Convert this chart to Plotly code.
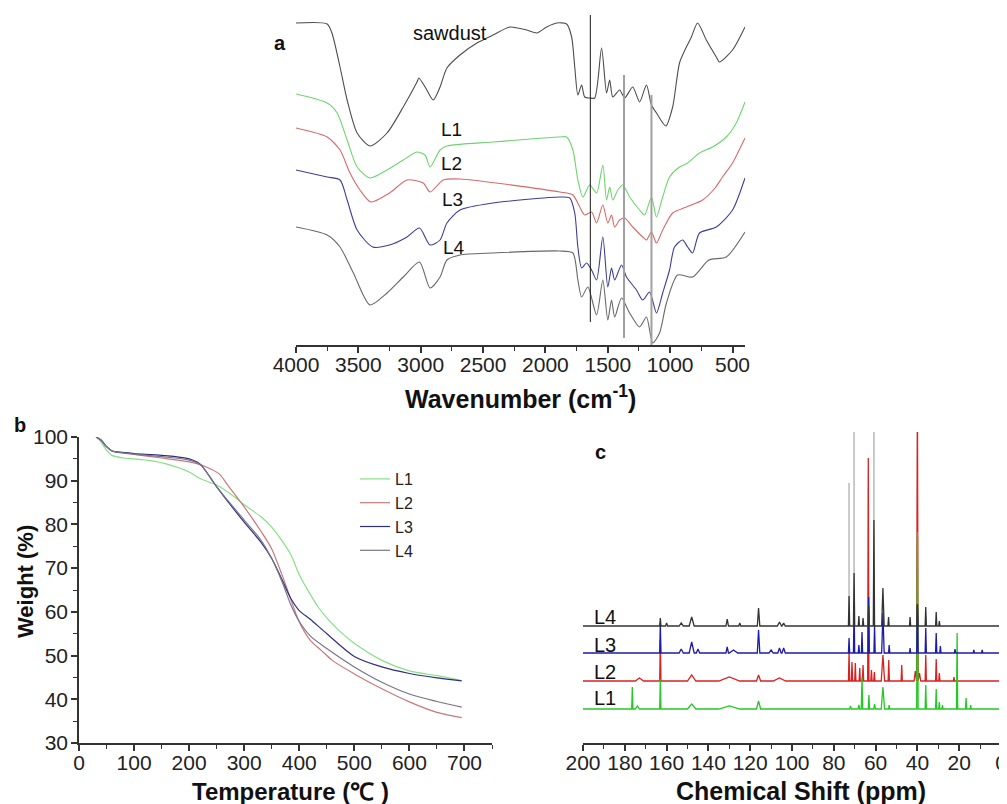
import plotly.graph_objects as go

# target picture size and the page's 8px body margin (figure is drawn inside it)
VW, VH, PAGE_MARGIN = 1007, 804, 8
W, H = VW - PAGE_MARGIN, VH - PAGE_MARGIN
FONT = "Liberation Sans, Arial, sans-serif"

# ---------------- (a) FTIR spectra: wavenumber (cm-1) vs transmittance (a.u., stacked) -------------
saw_wn = [4000, 3750, 3712, 3647, 3590, 3510, 3407, 3270, 3140, 3030, 3015, 2960, 2900, 2845, 2790, 2685,
          2550, 2420, 2285, 2150, 2070, 1990, 1910, 1830, 1790, 1765, 1740, 1710, 1685, 1645, 1605, 1550,
          1510, 1485, 1460, 1405, 1365, 1300, 1245, 1190, 1150, 1110, 1035, 980, 925, 870, 830, 780, 710,
          630, 605, 500, 400]
saw_T = [322, 321, 312, 278, 245, 212, 199, 212, 238, 263, 267, 257, 245, 258, 277, 290,
         302, 310, 318, 315, 312, 318, 322, 321, 308, 278, 250, 260, 248, 247, 247, 297,
         252, 265, 248, 255, 247, 258, 243, 260, 240, 232, 219, 238, 282, 298, 308, 322, 305,
         288, 283, 295, 318]

L1_wn = [4000, 3750, 3670, 3590, 3510, 3407, 3270, 3140, 3030, 2965, 2925, 2845, 2790, 2420, 1885, 1830,
         1780, 1740, 1700, 1645, 1590, 1540, 1510, 1485, 1460, 1420, 1380, 1325, 1245, 1205, 1150, 1110,
         1060, 1005, 925, 860, 765, 660, 550, 470, 400]
L1_T = [251, 242, 232, 205, 178, 167, 175, 185, 193, 190, 178, 195, 199, 203, 208, 208,
        195, 165, 148, 160, 152, 180, 145, 158, 145, 155, 160, 148, 135, 130, 148, 128,
        148, 168, 178, 182, 192, 198, 208, 222, 243]

L2_wn = [4000, 3750, 3647, 3567, 3487, 3400, 3250, 3110, 2980, 2925, 2820, 2685, 1885, 1780, 1725, 1685,
         1630, 1590, 1540, 1500, 1470, 1445, 1405, 1365, 1300, 1220, 1190, 1150, 1110, 1060, 980, 870,
         740, 640, 580, 500, 400]
L2_T = [217, 208, 195, 172, 155, 143, 152, 165, 162, 153, 165, 166, 153, 150, 138, 130,
        133, 122, 140, 122, 130, 118, 125, 127, 118, 108, 105, 113, 102, 115, 132, 138,
        145, 157, 168, 182, 207]

L3_wn = [4000, 3750, 3647, 3590, 3510, 3385, 3250, 3110, 3010, 2925, 2845, 2790, 2685, 2420, 1885, 1805,
         1765, 1740, 1710, 1670, 1630, 1590, 1540, 1500, 1470, 1445, 1390, 1350, 1270, 1220, 1165, 1110,
         1060, 1005, 965, 900, 860, 820, 765, 630, 500, 400]
L3_T = [175, 168, 165, 145, 115, 98, 100, 108, 117, 100, 105, 122, 135, 142, 148, 147,
        132, 98, 77, 82, 75, 65, 108, 58, 77, 65, 80, 68, 55, 45, 53, 32,
        52, 75, 98, 105, 98, 92, 112, 118, 135, 167]

L4_wn = [4000, 3750, 3647, 3540, 3407, 3270, 3140, 3010, 2925, 2845, 2790, 2685, 2420, 1885, 1780, 1740,
         1710, 1660, 1590, 1540, 1500, 1470, 1445, 1390, 1325, 1245, 1190, 1140, 1085, 1030, 940, 820,
         690, 550, 400]
L4_T = [118, 110, 98, 72, 40, 52, 68, 83, 57, 68, 85, 90, 92, 94, 92, 65,
        48, 58, 30, 65, 25, 45, 28, 47, 32, 18, 28, 2, 12, 42, 70, 68,
        85, 88, 113]

ftir_marks_wn = [1640, 1370, 1150]
ftir_marks_lo = [23, 7, 0]
ftir_marks_hi = [330, 270, 250]

# ---------------- (b) TGA: temperature (C) vs weight (%) ----------------
tga_L1_T = [31, 38, 50, 60, 80, 100, 130, 160, 200, 220, 250, 280, 300, 330, 350, 370, 385, 400, 420, 435,
            450, 470, 500, 550, 600, 650, 695]
tga_L1_W = [100, 99.2, 97, 95.8, 95.2, 95, 94.6, 93.8, 92, 90.5, 89, 86.5, 84.5, 81.8, 79.4, 76, 73, 68.5,
            64, 61, 58.6, 56, 52.8, 48.9, 46.5, 45.4, 44.3]
tga_L2_T = [31, 40, 50, 60, 80, 100, 150, 200, 230, 255, 270, 300, 330, 350, 370, 380, 400, 420, 440, 460,
            500, 550, 600, 650, 695]
tga_L2_W = [100, 99.3, 97.8, 96.8, 96.3, 96, 95.2, 94.3, 93.2, 91.5, 89, 84, 78.5, 74.4, 68, 64.5, 57.7,
            53.5, 51.2, 48.9, 45.8, 42.4, 39.4, 37, 35.8]
tga_L3_T = [31, 40, 50, 60, 80, 100, 150, 200, 220, 250, 300, 330, 350, 370, 385, 400, 420, 450, 500, 550,
            600, 650, 695]
tga_L3_W = [100, 99.3, 97.8, 96.8, 96.5, 96.2, 95.8, 95, 93.8, 88.6, 80.5, 76, 72.2, 67, 63, 60.3, 58.3, 55,
            49.8, 47.4, 45.9, 44.9, 44.2]
tga_L4_T = [31, 40, 50, 60, 80, 100, 150, 200, 220, 250, 300, 330, 350, 370, 385, 400, 420, 450, 500, 550,
            600, 650, 695]
tga_L4_W = [100, 99.3, 97.8, 96.8, 96.4, 96.1, 95.5, 94.7, 93.7, 88.6, 81, 76.5, 72.2, 66.5, 61.5, 57.8,
            54.5, 51.6, 47.4, 43.9, 41.2, 39.5, 38.2]

# ---------------- (c) 13C NMR: peak tables (ppm, height a.u., half-width ppm) ----------------
nmr_L1_ppm = [176.4, 174, 163, 148, 130, 116, 72, 68, 66.5, 63.2, 60.5, 56.5, 53.5, 40, 36, 31, 29.5, 28,
              21, 16.7, 14.5, 0]
nmr_L1_h = [22, 3, 30, 5, 3, 8, 3, 4, 32, 14, 5, 22, 4, 177, 24, 20, 7, 4, 76, 11, 4, 3]
nmr_L1_w = [0.3, 1, 0.3, 2, 5, 1, 0.4, 0.4, 0.35, 0.3, 0.4, 0.8, 0.3, 0.35, 0.3, 0.3, 0.3, 0.3, 0.3, 0.3,
            0.3, 0.3]

nmr_L2_ppm = [173, 163, 148, 130, 116, 106, 72.7, 71.3, 69.7, 67.6, 66, 63.5, 62, 60.6, 56.5, 53.7, 47.5,
              41, 40, 39, 36, 31, 29.5, 22.5, 0]
nmr_L2_h = [3, 41, 6, 4, 6, 3, 29, 19, 18, 13, 16, 223, 11, 9, 26, 21, 16, 10, 300, 8, 26, 22, 8, 4, 5]
nmr_L2_w = [2, 0.3, 2, 5, 1, 3, 0.3, 0.3, 0.3, 0.3, 0.3, 0.3, 0.3, 0.3, 0.8, 0.3, 0.3, 0.6, 0.35, 0.6, 0.3,
            0.3, 0.3, 0.3, 0.3]

nmr_L3_ppm = [163, 153, 148, 145, 131, 128, 116, 110, 106, 104, 72.7, 70.3, 68, 66.5, 63.3, 60.5, 56.5,
              53.5, 43.5, 40, 36, 31, 29, 22, 13, 9, 0]
nmr_L3_h = [30, 4, 11, 4, 6, 3, 23, 3, 5, 5, 15, 48, 8, 21, 56, 28, 40, 8, 5, 48, 25, 20, 7, 4, 3, 3, 7]
nmr_L3_w = [0.3, 1, 1.2, 0.8, 0.6, 2, 0.6, 1, 0.8, 0.8, 0.3, 0.3, 0.3, 0.3, 0.3, 0.3, 0.6, 0.3, 0.3, 0.35,
            0.3, 0.3, 0.3, 0.3, 0.3, 0.3, 0.3]

nmr_L4_ppm = [163, 160, 153, 148, 131, 125, 116, 106, 104, 72.7, 70.3, 68, 66, 63.3, 60.8, 56.5, 53.8,
              43.5, 40, 36, 31, 29.5, 0]
nmr_L4_h = [8, 3, 3, 9, 7, 3, 18, 4, 3, 30, 53, 10, 8, 20, 106, 38, 9, 9, 22, 19, 14, 5, 6]
nmr_L4_w = [0.3, 0.5, 1, 1.2, 0.6, 0.5, 0.6, 1, 0.8, 0.3, 0.3, 0.3, 0.3, 0.3, 0.3, 0.6, 0.3, 0.3, 0.35,
            0.3, 0.3, 0.3, 0.3]

# off-scale thin peaks (drawn light grey) rising from the L4 baseline
nmr_tall_ppm = [72.7, 70.3, 60.8]
nmr_tall_h = [143, 300, 300]

nmr_offsets = {"L1": 34, "L2": 62, "L3": 90, "L4": 117}

ftir_colors = {"sawdust": "#4d4d4d", "L1": "#6fd46f", "L2": "#d46a6a", "L3": "#3c3c9c", "L4": "#686868"}
tga_colors = {"L1": "#86e086", "L2": "#c87878", "L3": "#2f2f80", "L4": "#76768a"}
nmr_colors = {"L1": "#25c825", "L2": "#d82222", "L3": "#1c1ca6", "L4": "#333333"}


def stick_spectrum(ppm, h, w, offset):
    xs, ys = [201], [offset]
    for p, hh, ww in sorted(zip(ppm, h, w), key=lambda t: -t[0]):
        xs += [p + ww, p, p - ww]
        ys += [offset, offset + hh, offset]
    xs.append(-1)
    ys.append(offset)
    return xs, ys


fig = go.Figure()

# ---- FTIR ----
for name, wn, T in [("sawdust", saw_wn, saw_T), ("L1", L1_wn, L1_T), ("L2", L2_wn, L2_T),
                    ("L3", L3_wn, L3_T), ("L4", L4_wn, L4_T)]:
    fig.add_trace(go.Scatter(x=wn, y=T, mode="lines", xaxis="x", yaxis="y", showlegend=False,
                             line=dict(color=ftir_colors[name], width=1.1, shape="spline", smoothing=0.7),
                             hoverinfo="skip"))
for i, (wn, lo, hi) in enumerate(zip(ftir_marks_wn, ftir_marks_lo, ftir_marks_hi)):
    fig.add_trace(go.Scatter(x=[wn, wn], y=[lo, hi], mode="lines", xaxis="x", yaxis="y", showlegend=False,
                             line=dict(color="#1a1a1a" if i == 0 else "#a0a0a0", width=1 if i == 0 else 2),
                             hoverinfo="skip"))

# ---- TGA ----
for name, T, Wt in [("L1", tga_L1_T, tga_L1_W), ("L2", tga_L2_T, tga_L2_W),
                    ("L3", tga_L3_T, tga_L3_W), ("L4", tga_L4_T, tga_L4_W)]:
    fig.add_trace(go.Scatter(x=T, y=Wt, mode="lines", name=name, xaxis="x2", yaxis="y2",
                             line=dict(color=tga_colors[name], width=1.2, shape="spline", smoothing=0.8)))

# ---- NMR ----
tx, ty = [], []
for p, hh in zip(nmr_tall_ppm, nmr_tall_h):
    tx += [p, p, None]
    ty += [nmr_offsets["L4"], nmr_offsets["L4"] + hh, None]
fig.add_trace(go.Scatter(x=tx, y=ty, mode="lines", xaxis="x3", yaxis="y3", showlegend=False,
                         line=dict(color="#b8b8b8", width=1.5), hoverinfo="skip"))
for name, ppm, h, w in [("L2", nmr_L2_ppm, nmr_L2_h, nmr_L2_w), ("L1", nmr_L1_ppm, nmr_L1_h, nmr_L1_w),
                        ("L3", nmr_L3_ppm, nmr_L3_h, nmr_L3_w), ("L4", nmr_L4_ppm, nmr_L4_h, nmr_L4_w)]:
    xs, ys = stick_spectrum(ppm, h, w, nmr_offsets[name])
    fig.add_trace(go.Scatter(x=xs, y=ys, mode="lines", xaxis="x3", yaxis="y3", showlegend=False,
                             line=dict(color=nmr_colors[name], width=1.3), hoverinfo="skip"))


def px(x):
    return (x - PAGE_MARGIN) / W


def py(y):
    return 1 - (y - PAGE_MARGIN) / H


axis_common = dict(showline=True, linecolor="#333333", linewidth=1.5, ticks="outside", ticklen=6,
                   tickwidth=1.5, tickcolor="#333333", showgrid=False, zeroline=False, automargin=False,
                   tickfont=dict(family=FONT, size=21, color="#222222"))
minor_common = dict(ticks="outside", ticklen=4, tickwidth=1.2, tickcolor="#333333")

fig.update_layout(
    width=W, height=H, margin=dict(l=0, r=0, t=0, b=0, autoexpand=False), autosize=False,
    paper_bgcolor="white", plot_bgcolor="white",
    xaxis=dict(domain=[px(296), px(745)], range=[4000, 400], anchor="y", ticklabelstandoff=-6,
               tickvals=[4000, 3500, 3000, 2500, 2000, 1500, 1000, 500],
               minor=dict(tickvals=[3750, 3250, 2750, 2250, 1750, 1250, 750], **minor_common),
               **axis_common),
    yaxis=dict(domain=[py(345), py(15)], range=[0, 330], visible=False, anchor="x", automargin=False),
    xaxis2=dict(domain=[px(79), px(492)], range=[0, 750], anchor="y2", ticklabelstandoff=-6,
                tickvals=[0, 100, 200, 300, 400, 500, 600, 700],
                minor=dict(tickvals=[50, 150, 250, 350, 450, 550, 650, 750], **minor_common),
                **axis_common),
    yaxis2=dict(domain=[py(743), py(437)], range=[30, 100], anchor="x2", ticklabelstandoff=-1,
                tickvals=[30, 40, 50, 60, 70, 80, 90, 100],
                minor=dict(tickvals=[35, 45, 55, 65, 75, 85, 95], **minor_common),
                **axis_common),
    xaxis3=dict(domain=[px(583), px(1001)], range=[200, 0], anchor="y3", ticklabelstandoff=-6,
                tickvals=list(range(200, -1, -20)),
                minor=dict(tickvals=list(range(190, 0, -20)), **minor_common),
                **axis_common),
    yaxis3=dict(domain=[py(743), py(432)], range=[0, 311], visible=False, anchor="x3", automargin=False),
    legend=dict(x=px(355), y=py(462), xanchor="left", yanchor="top", bgcolor="rgba(0,0,0,0)",
                font=dict(family=FONT, size=16, color="#222222"), tracegroupgap=0),
)


def label(text, x, y, size=18, xanchor="center", bold=False, angle=0):
    fig.add_annotation(text=f"<b>{text}</b>" if bold else text, x=px(x), y=py(y), xref="paper",
                       yref="paper", showarrow=False, xanchor=xanchor, yanchor="middle", textangle=angle,
                       font=dict(family=FONT, size=size, color="#111111"))


# panel a texts
label("a", 280, 43, size=20, bold=True)
label("sawdust", 411, 33, size=20, xanchor="left")
label("L1", 439, 130, size=19, xanchor="left")
label("L2", 439, 163, size=19, xanchor="left")
label("L3", 440, 200, size=19, xanchor="left")
label("L4", 441, 247, size=19, xanchor="left")
label("Wavenumber (cm<sup>-1</sup>)", 520, 397, size=25, bold=True)

# panel b texts
label("b", 20, 425, size=20, bold=True)
label("Temperature (℃ )", 290, 791, size=24, bold=True)
label("Weight (%)", 25, 582, size=22, bold=True, angle=-90)

# panel c texts
label("c", 600, 452, size=20, bold=True)
label("L4", 592, 617, size=20, xanchor="left")
label("L3", 592, 645, size=20, xanchor="left")
label("L2", 592, 672, size=20, xanchor="left")
label("L1", 592, 698, size=20, xanchor="left")
label("Chemical Shift (ppm)", 801, 791, size=25, bold=True)

fig.write_html("out.html")
